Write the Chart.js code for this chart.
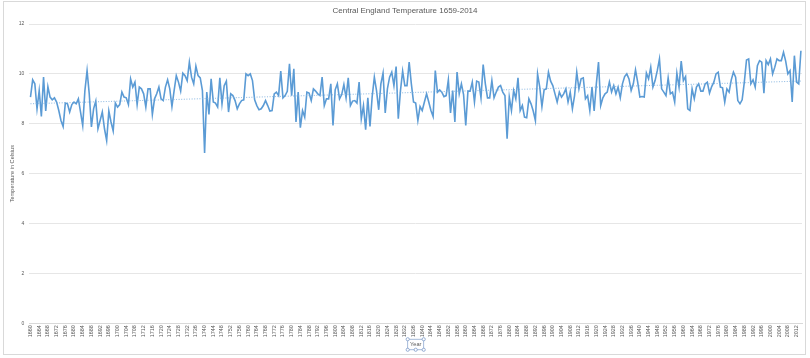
<!DOCTYPE html>
<html><head><meta charset="utf-8">
<script src="https://cdn.jsdelivr.net/npm/chart.js@4/dist/chart.umd.min.js"></script>
<style>
html,body{margin:0;padding:0;background:#fff;overflow:hidden;}
#wrap{position:relative;width:810px;height:358px;}
#frame{position:absolute;left:3px;top:1px;width:801px;height:352px;border:1px solid #d9d9d9;}
#c{position:absolute;left:0;top:0;}
</style></head><body>
<div id="wrap"><div id="frame"></div><canvas id="c" width="810" height="358"></canvas></div>
<script>
const chartTitle = 'Central England Temperature 1659-2014';
const yAxisTitle = 'Temperature in Celsius';
const xAxisTitle = 'Year';
const startYear = 1660;
const labelEvery = 4;
const yTickValues = [0, 2, 4, 6, 8, 10, 12];
const temps = [
 9.07, 9.76, 9.60, 8.60, 9.33, 8.29, 9.87, 8.51, 9.49, 9.07,
 8.96, 9.04, 8.87, 8.53, 8.13, 7.89, 8.83, 8.80, 8.47, 8.77,
 8.87, 8.80, 9.00, 8.47, 7.93, 9.33, 10.13, 9.20, 7.87, 8.60,
 8.91, 7.80, 8.13, 8.47, 7.80, 7.33, 8.51, 8.07, 7.71, 8.83,
 8.67, 8.77, 9.27, 9.07, 9.04, 8.77, 9.80, 9.47, 9.67, 8.77,
 9.47, 9.40, 9.20, 8.67, 9.40, 9.40, 8.37, 9.00, 9.20, 9.47,
 9.00, 8.93, 9.47, 9.76, 9.40, 8.69, 9.33, 9.93, 9.67, 9.31,
 10.03, 9.93, 9.73, 10.47, 9.87, 9.60, 10.31, 9.93, 9.84, 9.33,
 6.83, 9.27, 8.37, 9.80, 8.87, 8.83, 8.67, 9.84, 8.80, 9.53,
 9.71, 8.47, 9.20, 9.13, 8.93, 8.60, 8.80, 8.93, 8.96, 10.00,
 9.93, 10.00, 9.73, 8.96, 8.73, 8.56, 8.60, 8.73, 8.93, 8.73,
 8.51, 8.53, 9.20, 9.27, 9.13, 10.11, 9.04, 9.13, 9.30, 10.40,
 9.13, 10.20, 8.07, 9.27, 7.84, 8.53, 8.27, 9.27, 9.23, 8.93,
 9.40, 9.31, 9.20, 9.13, 9.87, 8.73, 9.00, 9.00, 9.60, 7.93,
 9.36, 9.60, 9.00, 9.17, 9.57, 9.04, 9.84, 8.73, 8.91, 8.93,
 8.83, 9.67, 8.20, 8.73, 7.76, 9.04, 7.89, 9.09, 9.87, 9.33,
 8.56, 9.60, 10.03, 8.43, 9.40, 9.87, 10.07, 9.53, 10.29, 8.20,
 9.33, 10.11, 9.53, 9.53, 10.47, 9.60, 8.87, 8.83, 8.13, 8.69,
 8.53, 8.87, 9.20, 8.87, 8.53, 8.29, 10.13, 9.27, 9.36, 9.27,
 9.09, 9.13, 9.76, 8.43, 9.33, 8.07, 10.07, 9.20, 9.60, 9.17,
 7.93, 9.31, 9.31, 9.67, 8.87, 9.71, 9.67, 9.04, 10.37, 9.60,
 9.04, 9.04, 9.73, 9.04, 9.27, 9.47, 9.53, 9.27, 9.13, 7.40,
 9.07, 8.53, 9.33, 9.00, 9.84, 8.53, 8.73, 8.27, 8.24, 9.00,
 8.80, 8.51, 8.13, 10.00, 9.47, 8.69, 9.36, 9.40, 10.07, 9.71,
 9.53, 9.20, 8.87, 9.27, 9.07, 9.20, 9.40, 8.87, 9.27, 8.60,
 9.13, 10.07, 9.40, 9.80, 9.84, 9.00, 9.13, 8.53, 9.47, 8.51,
 9.60, 10.47, 8.73, 9.04, 9.20, 9.27, 9.67, 9.27, 9.53, 9.20,
 9.47, 9.04, 9.60, 9.89, 10.00, 9.80, 9.33, 9.60, 10.16, 9.67,
 9.07, 9.09, 9.07, 10.03, 9.80, 10.27, 9.47, 9.73, 10.13, 10.60,
 9.40, 9.27, 9.13, 9.84, 9.20, 9.27, 8.87, 10.03, 9.47, 10.51,
 9.73, 9.89, 8.60, 8.53, 9.40, 9.00, 9.47, 9.60, 9.31, 9.31,
 9.60, 9.67, 9.23, 9.49, 9.67, 10.00, 10.07, 9.47, 9.44, 8.87,
 9.40, 9.27, 9.76, 10.07, 9.87, 8.93, 8.80, 8.96, 9.67, 10.56,
 10.60, 9.60, 9.76, 9.47, 10.33, 10.53, 10.47, 9.23, 10.53, 10.37,
 10.60, 10.00, 10.27, 10.60, 10.53, 10.53, 10.87, 10.51, 10.00, 10.13,
 8.87, 10.73, 9.67, 9.60, 10.93
];

const years = temps.map((_, i) => String(startYear + i));

// Excel-style linear trendline (least squares) built from the data
const n = temps.length;
let sx = 0, sy = 0, sxy = 0, sxx = 0;
temps.forEach((v, i) => { sx += i; sy += v; sxy += i * v; sxx += i * i; });
const slope = (n * sxy - sx * sy) / (n * sxx - sx * sx);
const intercept = (sy - slope * sx) / n;
const trend = temps.map((_, i) => intercept + slope * i);

const grey = '#595959';
const blue = '#5b9bd5';

const selectionBox = {
  id: 'selectionBox',
  afterDraw(chart) {
    const s = chart.scales.x;
    const ctx = chart.ctx;
    const cx = (s.left + s.right) / 2, cy = 344.5;
    const w = 16, h = 10.5;
    const x0 = cx - w / 2, y0 = cy - h / 2;
    ctx.save();
    ctx.strokeStyle = '#8fa9d0';
    ctx.lineWidth = 0.8;
    ctx.strokeRect(x0, y0, w, h);
    const pts = [[x0, y0], [x0 + w, y0], [x0, y0 + h], [x0 + w, y0 + h], [cx, y0 + h]];
    pts.forEach(p => {
      ctx.beginPath();
      ctx.arc(p[0], p[1], 1.6, 0, Math.PI * 2);
      ctx.fillStyle = '#ffffff';
      ctx.fill();
      ctx.strokeStyle = '#7f9cc9';
      ctx.stroke();
    });
    ctx.restore();
  }
};

new Chart(document.getElementById('c'), {
  type: 'line',
  data: {
    labels: years,
    datasets: [
      { label: 'CET', data: temps, borderColor: blue, borderWidth: 1.6, pointRadius: 0, tension: 0, fill: false, order: 2 },
      { label: 'Linear (CET)', data: trend, borderColor: '#7aaedd', borderWidth: 0.9, borderDash: [1, 1.6], pointRadius: 0, tension: 0, fill: false, order: 1 }
    ]
  },
  options: {
    responsive: false,
    animation: false,
    devicePixelRatio: 1,
    layout: { padding: { top: 0, left: 0, right: 0, bottom: 0 } },
    plugins: {
      legend: { display: false },
      tooltip: { enabled: false },
      title: {
        display: true, text: chartTitle, color: grey,
        font: { family: 'Liberation Sans', size: 8, weight: 'normal' },
        padding: { top: 6, bottom: 8.4 }
      }
    },
    scales: {
      x: {
        offset: true,
        grid: { display: false, drawTicks: false },
        border: { display: true, color: '#d9d9d9', width: 1 },
        ticks: {
          autoSkip: false, minRotation: 90, maxRotation: 90, padding: 2,
          color: grey, font: { family: 'Liberation Sans', size: 5.4 },
          callback: (v, i) => (i % labelEvery === 0 ? years[i] : '')
        },
        title: { display: true, text: xAxisTitle, color: grey, font: { family: 'Liberation Sans', size: 5.6 }, padding: { top: 0, bottom: 10 } },
        afterFit: s => { s.height = 358 - 323.3; }
      },
      y: {
        min: 0, max: 12,
        afterBuildTicks: s => { s.ticks = yTickValues.map(v => ({ value: v })); },
        grid: { color: '#e6e6e6', lineWidth: 1, drawTicks: false },
        border: { display: false },
        ticks: { padding: 5, color: grey, font: { family: 'Liberation Sans', size: 5 } },
        title: { display: true, text: yAxisTitle, color: grey, font: { family: 'Liberation Sans', size: 5.6 }, padding: { top: 9.5, bottom: 0 } },
        afterFit: s => { s.width = 29.4; }
      },
      yR: {
        position: 'right', display: true,
        grid: { display: false, drawTicks: false }, border: { display: false },
        ticks: { display: false },
        afterFit: s => { s.width = 8; }
      }
    }
  },
  plugins: [selectionBox]
});
</script>
</body></html>
